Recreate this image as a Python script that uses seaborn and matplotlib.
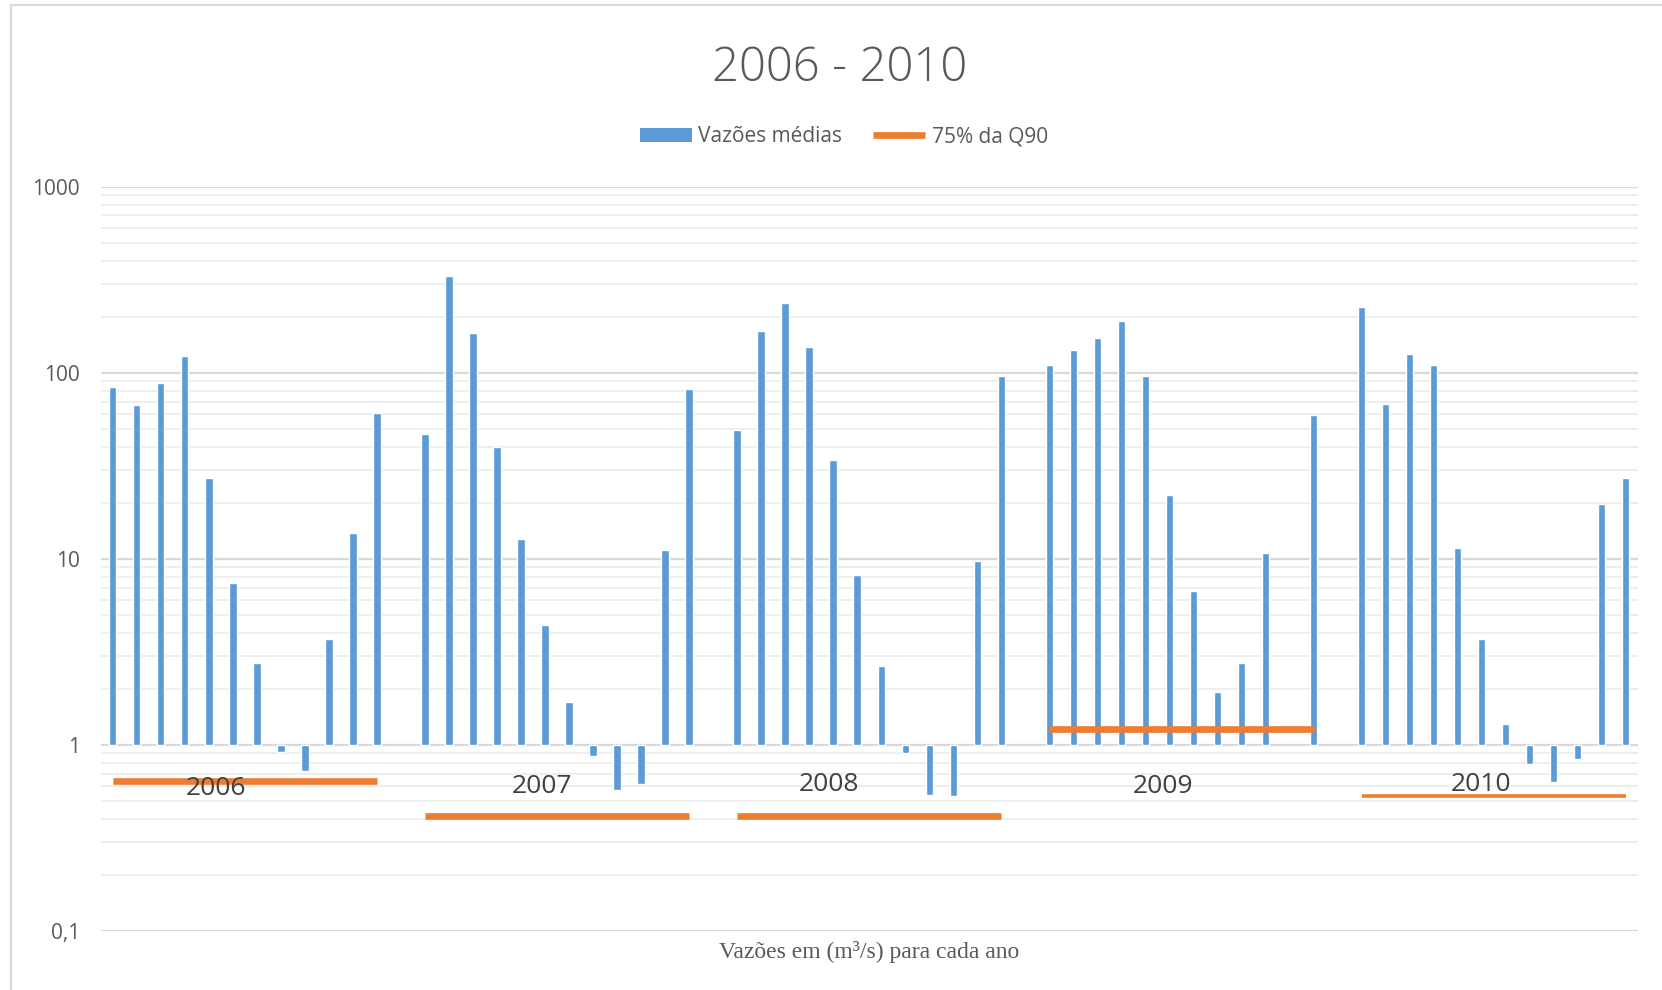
import numpy as np
import pandas as pd
import matplotlib.pyplot as plt
import seaborn as sns
from matplotlib.patches import Rectangle, Patch
from matplotlib.lines import Line2D
from matplotlib.ticker import LogLocator, FixedLocator, NullFormatter

# monthly mean flows (m3/s)
years = ['2006', '2007', '2008', '2009', '2010']
flow_2006 = [84, 67, 88, 123, 27.2, 7.4, 2.77, 0.92, 0.72, 3.7, 13.8, 61]
flow_2007 = [46.7, 330, 163, 40, 12.7, 4.4, 1.71, 0.87, 0.57, 0.62, 11.2, 82]
flow_2008 = [49.3, 167, 237, 138, 34, 8.2, 2.67, 0.91, 0.54, 0.53, 9.75, 96.5]
flow_2009 = [110, 133, 154, 190, 95.5, 21.9, 6.7, 1.92, 2.75, 10.7, np.nan, 59.5]
flow_2010 = [226, 67.8, 126, 110, 11.4, 3.7, 1.29, 0.79, 0.63, 0.84, 19.6, 27.3]
q90_75 = [0.64, 0.415, 0.415, 1.22, 0.53]

flows = [flow_2006, flow_2007, flow_2008, flow_2009, flow_2010]

rows = []
for i, (yr, vals) in enumerate(zip(years, flows)):
    for m, v in enumerate(vals):
        rows.append({'year': yr, 'month': m + 1, 'slot': i * 13 + m, 'flow': v})
df = pd.DataFrame(rows)

blue = '#5B9BD5'
orange = '#ED7D31'
txt = '#595959'

sns.set_theme(style='white')
plt.rcParams['font.family'] = ['Open Sans', 'DejaVu Sans']

fig = plt.figure(figsize=(16.62, 9.9), dpi=100)
ax = fig.add_axes([0.0606, 0.0596, 0.9248, 0.7519])
ax.set_yscale('log')
ax.set_ylim(0.1, 1000)
ax.set_xlim(-0.5, 63.5)

# gridlines first
ax.yaxis.set_major_locator(FixedLocator([0.1, 1, 10, 100, 1000]))
ax.yaxis.set_minor_locator(LogLocator(base=10, subs=np.arange(2, 10)))
ax.yaxis.set_minor_formatter(NullFormatter())
ax.grid(True, which='minor', axis='y', color='#eeeeee', lw=1.4)
ax.grid(True, which='major', axis='y', color='#d9d9d9', lw=1.6)
ax.set_axisbelow(True)

# bars hang from 1 (excel log axis crossing)
ax.bar(df['slot'], df['flow'] - 1, bottom=1, width=0.31, color=blue, zorder=2)

# 75% of Q90 per year
for i, q in enumerate(q90_75):
    x0 = i * 13
    lw = 2.6 if i == 4 else 4.8
    ax.plot([x0, x0 + 11], [q, q], color=orange, lw=lw, solid_capstyle='butt', zorder=3)

# year labels
label_x = [4.32, 17.89, 29.83, 43.75, 56.97]
label_y = [0.58, 0.60, 0.61, 0.60, 0.61]
for yr, lx, ly in zip(years, label_x, label_y):
    ax.text(lx, ly, yr, ha='center', va='center', fontsize=19, color='#404040', zorder=4)

ax.set_yticklabels(['0,1', '1', '10', '100', '1000'])
ax.tick_params(axis='y', which='both', length=0, labelsize=15, labelcolor=txt, pad=15)
ax.tick_params(axis='x', which='both', length=0, labelbottom=False)
for s in ax.spines.values():
    s.set_visible(False)

ax.set_xlabel('Vazões em (m³/s) para cada ano', fontsize=17, color=txt,
              family='Liberation Serif', labelpad=7)

fig.text(0.505, 0.9306, '2006 - 2010', ha='center', va='center', fontsize=34,
         color=txt, fontweight='light')

handles = [Patch(facecolor=blue, edgecolor='none'),
           Line2D([0], [0], color=orange, lw=4.8, solid_capstyle='butt')]
fig.legend(handles, ['Vazões médias', '75% da Q90'], loc='center',
           bbox_to_anchor=(0.5076, 0.862), ncol=2, frameon=False, fontsize=15,
           labelcolor=txt, handlelength=2.5, handleheight=0.7,
           handletextpad=0.3, columnspacing=1.5)

# chart area border
fig.patches.append(Rectangle((0.0066, -0.02), 1.1, 1.0146, transform=fig.transFigure,
                             fill=False, edgecolor='#d9d9d9', lw=1.5))

fig.savefig('out.png', dpi=100)
